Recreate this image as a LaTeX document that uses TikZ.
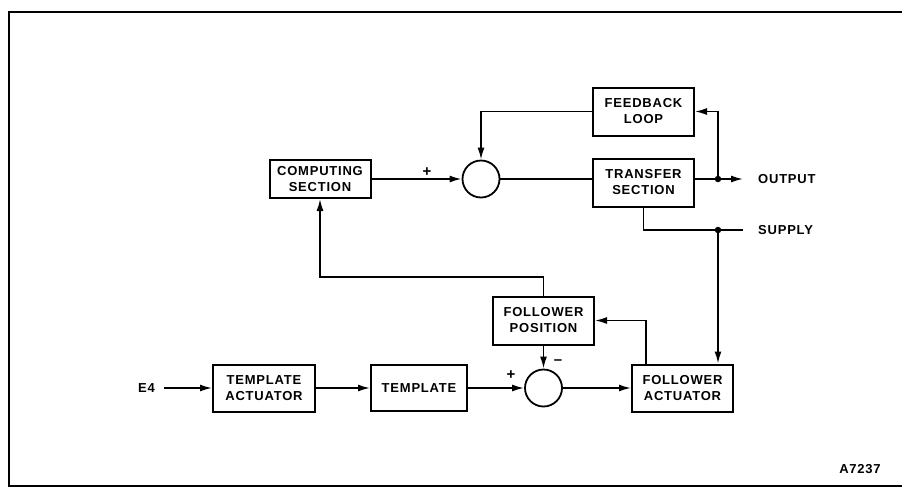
\documentclass[tikz,border=0pt]{standalone}
\usepackage{fontspec}
\setmainfont{Liberation Sans}
\newfontfamily\blockfont[LetterSpace=6]{Liberation Sans}
\usetikzlibrary{arrows.meta,positioning,calc}

\begin{document}
\begin{tikzpicture}[
  x=1pt, y=-1pt,
  blockbox/.style={draw, line width=2pt, align=center, minimum width=101pt,
                   minimum height=48pt, inner sep=2pt,
                   font=\blockfont\bfseries\fontsize{13}{16}\selectfont},
  sumnode/.style={draw, circle, line width=1.8pt, minimum size=37pt, inner sep=0pt},
  joint/.style={circle, fill, inner sep=0pt, minimum size=6.5pt},
  tag/.style={inner sep=1pt, font=\blockfont\bfseries\fontsize{13}{16}\selectfont},
  sign/.style={inner sep=0pt, font=\bfseries\fontsize{15}{16}\selectfont},
  arrow/.style={-{Latex[length=12pt,width=7pt]}, line width=1.7pt},
  wire/.style={line width=1.7pt},
  frame/.style={line width=2.4pt}
]
\useasboundingbox (0,0) rectangle (902,488);
\draw[frame] (902,12) -- (9,12) -- (9,486) -- (902,486);

% upper loop
\node[blockbox, minimum height=38pt] (computing) at (320,179) {COMPUTING\\SECTION};
\node[sumnode] (topsum) at (481,179) {};
\node[blockbox] (feedback) at (643.5,111.5) {FEEDBACK\\LOOP};
\node[blockbox] (transfer) at (643.5,182.5) {TRANSFER\\SECTION};
\node[sign] (plustop) at (427,172) {+};

% lower loop
\node[blockbox] (followpos) at (543.5,320.5) {FOLLOWER\\POSITION};
\node[sumnode] (lowsum) at (543.5,388) {};
\node[blockbox, minimum width=102pt, minimum height=47pt] (tplact) at (264,388) {TEMPLATE\\ACTUATOR};
\node[blockbox, minimum width=96pt, minimum height=46pt] (template) at (419,388) {TEMPLATE};
\node[blockbox, minimum height=47pt] (followact) at (682.5,388) {FOLLOWER\\ACTUATOR};
\node[sign] (pluslow) at (511,375) {+};
\node[sign] (minuslow) at (558,362) {--};

% texts
\node[tag, anchor=west] (e4) at (137,388) {E4};
\node[tag, anchor=west] (output) at (757,179) {OUTPUT};
\node[tag, anchor=west] (supply) at (757,230) {SUPPLY};
\node[tag] (drawno) at (860,469) {A7237};

\node[joint] (outdot) at (718,179) {};
\node[joint] (supplydot) at (718,230) {};
\coordinate (outend) at (743,179);
\coordinate (supplyend) at (743,230);
\coordinate (bend) at (320,277);

\draw[arrow] (computing) -- (topsum);
\draw[wire] (topsum.east) -- (topsum.east -| transfer.west);
\draw[arrow] (feedback.west) -| (topsum.north);
\draw[wire] (transfer.east |- outdot) -- (outdot);
\draw[arrow] (outdot) -- (outend);
\draw[arrow] (outdot) |- (feedback.east);
\draw[wire] (transfer.south) |- (supplydot) -- (supplyend);
\draw[arrow] (supplydot) -- (supplydot |- followact.north);

\draw[arrow] (followpos.north) |- (bend) -- (computing.south);
\draw[arrow] (followpos.south) -- (lowsum.north);
\draw[arrow] ([xshift=8pt]e4.east) -- (tplact);
\draw[arrow] (tplact) -- (template);
\draw[arrow] (template) -- (lowsum);
\draw[arrow] (lowsum) -- (followact);
\draw[arrow] ([xshift=-36.5pt]followact.north) |- (followpos.east);
\end{tikzpicture}
\end{document}
